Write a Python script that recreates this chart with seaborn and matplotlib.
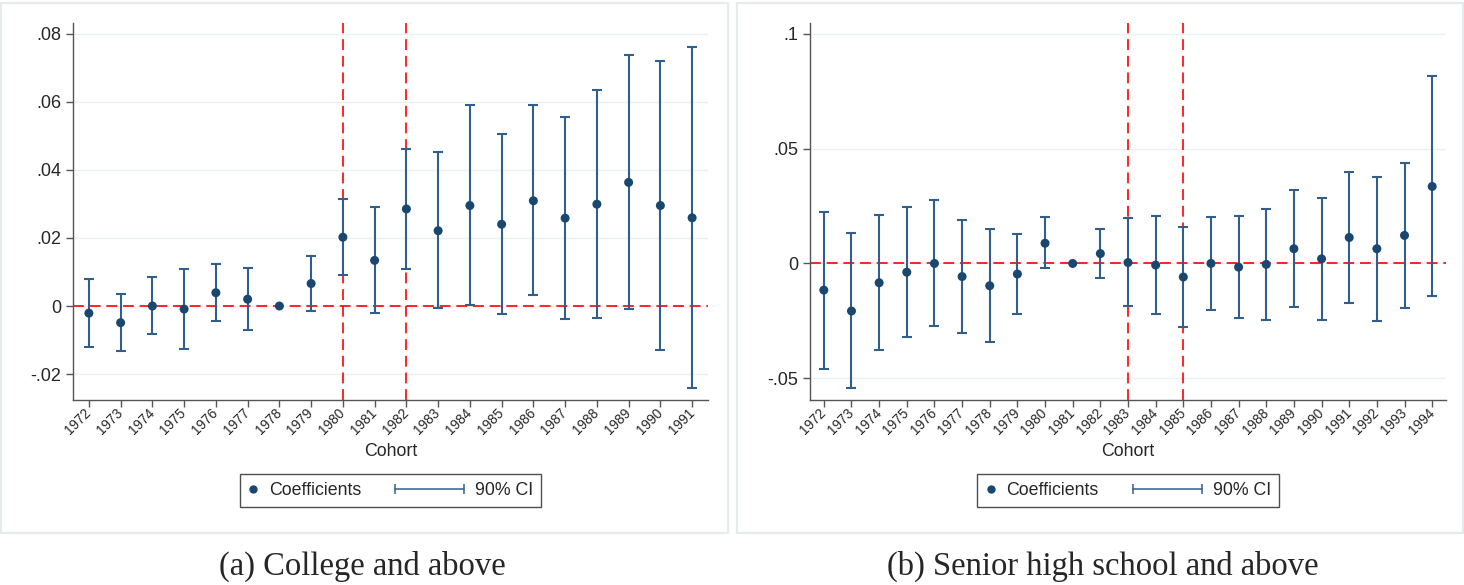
import numpy as np
import pandas as pd
import matplotlib
matplotlib.use("Agg")
import matplotlib.pyplot as plt
import seaborn as sns
from matplotlib.lines import Line2D
from matplotlib.patches import Rectangle
from matplotlib.legend_handler import HandlerBase

# --- data ---
# (a) College and above
years_a = list(range(1972, 1992))
coef_a = [-0.0021, -0.0049, 0.0000, -0.0009, 0.0039, 0.0020, 0.0000, 0.0066, 0.0202, 0.0134,
          0.0285, 0.0221, 0.0295, 0.0240, 0.0309, 0.0258, 0.0299, 0.0363, 0.0295, 0.0259]
hi_a = [0.0078, 0.0035, 0.0085, 0.0109, 0.0124, 0.0112, np.nan, 0.0148, 0.0315, 0.0290,
        0.0462, 0.0451, 0.0589, 0.0504, 0.0589, 0.0554, 0.0634, 0.0736, 0.0719, 0.0760]
lo_a = [-0.0120, -0.0131, -0.0083, -0.0125, -0.0045, -0.0069, np.nan, -0.0015, 0.0090, -0.0021,
        0.0109, -0.0007, 0.0002, -0.0023, 0.0031, -0.0038, -0.0035, -0.0010, -0.0128, -0.0241]
cut_a = [1980, 1982]

# (b) Senior high school and above
years_b = list(range(1972, 1995))
coef_b = [-0.0116, -0.0207, -0.0084, -0.0038, 0.0000, -0.0057, -0.0097, -0.0046, 0.0088, 0.0000,
          0.0043, 0.0004, -0.0007, -0.0059, 0.0000, -0.0016, -0.0004, 0.0064, 0.0020, 0.0113,
          0.0064, 0.0122, 0.0335]
hi_b = [0.0226, 0.0132, 0.0212, 0.0246, 0.0277, 0.0191, 0.0149, 0.0129, 0.0200, np.nan,
        0.0152, 0.0197, 0.0206, 0.0158, 0.0201, 0.0207, 0.0236, 0.0319, 0.0286, 0.0399,
        0.0377, 0.0439, 0.0815]
lo_b = [-0.0457, -0.0543, -0.0377, -0.0319, -0.0274, -0.0301, -0.0341, -0.0222, -0.0019, np.nan,
        -0.0062, -0.0186, -0.0220, -0.0277, -0.0203, -0.0236, -0.0245, -0.0190, -0.0248, -0.0172,
        -0.0251, -0.0194, -0.0143]
cut_b = [1983, 1985]

DOT = "#1a476f"
BAR = "#315f8c"
GRID = "#e9f1f3"


class CIHandler(HandlerBase):
    """capped horizontal line for the CI key, drawn leftwards from the text"""
    def create_artists(self, legend, orig_handle, xdescent, ydescent,
                       width, height, fontsize, trans):
        y = height / 2 - ydescent
        x0 = width - 50
        line = Line2D([x0, width], [y, y], color=BAR, lw=1.1)
        caps = Line2D([x0, width], [y, y], ls="none", marker="|",
                      ms=7, mew=1.1, color=BAR)
        line.set_transform(trans)
        caps.set_transform(trans)
        return [line, caps]


def draw_panel(ax, years, coef, lo, hi, cuts, ylim, yticks, ylabels):
    df = pd.DataFrame({"cohort": years, "coef": coef, "lo": lo, "hi": hi})
    ci = df.dropna()
    ax.yaxis.grid(True, color=GRID, lw=1.0)
    ax.set_axisbelow(True)
    ax.errorbar(ci["cohort"], ci["coef"],
                yerr=[ci["coef"] - ci["lo"], ci["hi"] - ci["coef"]],
                fmt="none", ecolor=BAR, elinewidth=1.5, capsize=3.6, capthick=1.5, zorder=3)
    sns.scatterplot(data=df, x="cohort", y="coef", ax=ax, color=DOT, s=42,
                    edgecolor="none", zorder=4, legend=False)
    ax.axhline(0, color="red", lw=1.2, ls=(0, (6.5, 3.5)), zorder=2)
    for c in cuts:
        ax.axvline(c, color="red", lw=1.2, ls=(0, (6.5, 3.5)), zorder=2)

    ax.set_xlim(years[0] - 0.5, years[-1] + 0.5)
    ax.set_ylim(*ylim)
    ax.set_yticks(yticks)
    ax.set_yticklabels(ylabels, fontsize=13)
    ax.set_xticks(years)
    ax.set_xticklabels([str(y) for y in years], fontsize=9.8, rotation=45,
                       ha="right", va="center", rotation_mode="anchor")
    ax.tick_params(axis="both", direction="out", length=5, width=1, color="#555555",
                   left=True, bottom=True)
    ax.tick_params(axis="x", pad=3)
    for s in ["top", "right"]:
        ax.spines[s].set_visible(False)
    for s in ["left", "bottom"]:
        ax.spines[s].set_color("#555555")
        ax.spines[s].set_linewidth(1.0)
    ax.set_xlabel("Cohort", fontsize=12.8, labelpad=4)
    ax.set_ylabel("")

    h_dot = Line2D([], [], ls="none", marker="o", ms=5, color=DOT)
    h_ci = Line2D([], [], color=BAR)
    leg = ax.legend([h_dot, h_ci], ["Coefficients", "90% CI"], ncol=2,
                    handler_map={h_ci: CIHandler()},
                    loc="center", bbox_to_anchor=(0.5, -0.241),
                    fontsize=12.8, frameon=True, fancybox=False, edgecolor="#222222",
                    handlelength=0.6, handletextpad=0.6, columnspacing=5.2,
                    borderpad=0.45, borderaxespad=0)
    leg.get_frame().set_linewidth(1.0)


sns.set_theme(style="white")
plt.rcParams["font.family"] = ["Liberation Sans", "DejaVu Sans"]

fig = plt.figure(figsize=(14.64, 5.85), dpi=100)
fig.patch.set_facecolor("white")

# panel frames
for x0, x1 in [(1, 727.5), (736.5, 1463)]:
    fig.patches.append(Rectangle((x0 / 1464, 1 - 533 / 585), (x1 - x0) / 1464, 530 / 585,
                                 transform=fig.transFigure, fill=False,
                                 edgecolor="#e4ecee", lw=1.6))

ax_a = fig.add_axes([73 / 1464, 1 - 400 / 585, 635 / 1464, 377 / 585])
ax_b = fig.add_axes([810 / 1464, 1 - 400 / 585, 636 / 1464, 377 / 585])

draw_panel(ax_a, years_a, coef_a, lo_a, hi_a, cut_a, (-0.0276, 0.0831),
           [-0.02, 0, 0.02, 0.04, 0.06, 0.08], ["-.02", "0", ".02", ".04", ".06", ".08"])
draw_panel(ax_b, years_b, coef_b, lo_b, hi_b, cut_b, (-0.0594, 0.1046),
           [-0.05, 0, 0.05, 0.1], ["-.05", "0", ".05", ".1"])

fig.text(362 / 1464, 1 - 566 / 585, "(a) College and above", ha="center", va="center",
         fontsize=23.5, family=["Liberation Serif", "DejaVu Serif"])
fig.text(1103 / 1464, 1 - 566 / 585, "(b) Senior high school and above", ha="center",
         va="center", fontsize=23.5, family=["Liberation Serif", "DejaVu Serif"])

fig.savefig("out.png", dpi=100)
